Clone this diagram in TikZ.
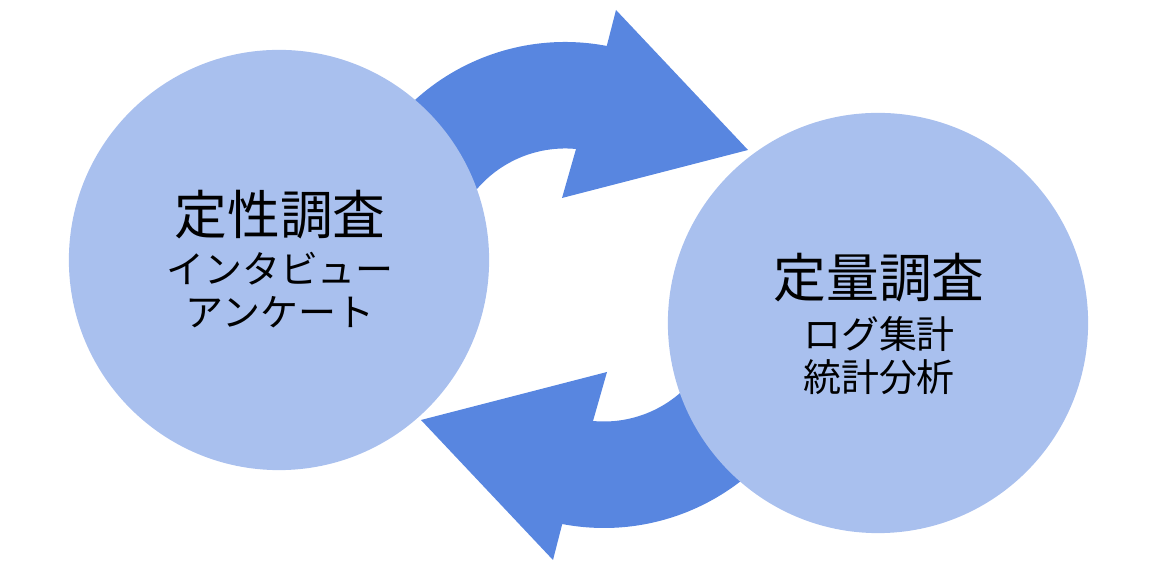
\documentclass[tikz,border=0pt]{standalone}
\usepackage{fontspec}
\newfontfamily\jpfont{Noto Sans CJK JP}
\usetikzlibrary{positioning}
\usetikzlibrary{calc}
\definecolor{flowblue}{RGB}{88,134,224}
\definecolor{circblue}{RGB}{169,192,238}

\begin{document}
\begin{tikzpicture}[x=0.01cm, y=0.01cm]
    \useasboundingbox (0,0) rectangle (1166,564);
    \tikzset{
        survey/.style={circle, fill=circblue, minimum size=4.2cm, inner sep=0pt},
        headtxt/.style={font=\jpfont\fontsize{15}{18}\selectfont, inner sep=0pt},
        subtxt/.style={font=\jpfont\fontsize{10.8}{13}\selectfont, inner sep=0pt},
        flow/.style={fill=flowblue}
    }

    % Cycle arrows (second one is the first turned round the centre)
    \coordinate (cyc) at (584.5,279);
    \foreach \r in {0,180} {
        \begin{scope}[rotate around={\r:(cyc)}]
            \fill[flow] (565,299) ++(150:223) arc[start angle=150, end angle=79.2, radius=223]
                -- (616,554) -- (748,414) -- (562,366) -- (576,415)
                arc[start angle=84.6, end angle=150, radius=116] -- cycle;
        \end{scope}
    }

    % Qualitative survey
    \node[survey] (qual) at (279,304) {};
    \node[headtxt] (qualT) at (280,349) {定性調査};
    \node[subtxt] (qual1) at (280,295) {インタビュー};
    \node[subtxt] (qual2) at (280,252) {アンケート};

    % Quantitative survey
    \node[survey] (quant) at (878,241) {};
    \node[headtxt] (quantT) at (879,286) {定量調査};
    \node[subtxt] (quant1) at (879,230) {ログ集計};
    \node[subtxt] (quant2) at (879,187) {統計分析};
\end{tikzpicture}
\end{document}
